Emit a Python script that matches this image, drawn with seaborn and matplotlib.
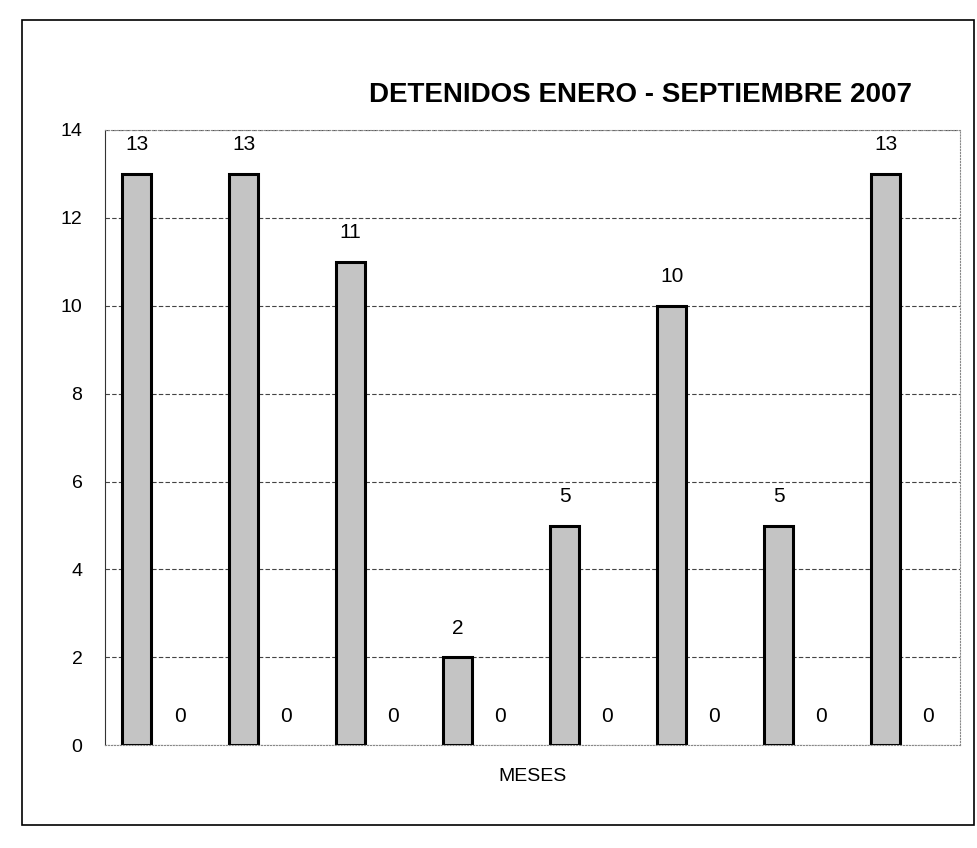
import pandas as pd
import matplotlib
matplotlib.use('Agg')
import matplotlib.pyplot as plt
import seaborn as sns
from matplotlib.patches import Rectangle

# datos
meses = ['1', '2', '3', '4', '5', '6', '7', '8']
detenidos = [13, 13, 11, 2, 5, 10, 5, 13]
otros = [0, 0, 0, 0, 0, 0, 0, 0]
series = ['Detenidos', 'Otros']

df = pd.DataFrame({
    'mes': meses * 2,
    'valor': detenidos + otros,
    'serie': [series[0]] * len(meses) + [series[1]] * len(meses),
})

sns.set_style('white')
plt.rcParams['font.family'] = ['Liberation Sans', 'DejaVu Sans']
plt.rcParams['text.color'] = 'black'
plt.rcParams['axes.labelcolor'] = 'black'
plt.rcParams['ytick.color'] = 'black'

fig = plt.figure(figsize=(9.78, 8.48), dpi=100)
ax = fig.add_axes([0.107, 0.121, 0.875, 0.726])

sns.barplot(data=df, x='mes', y='valor', hue='serie', palette=['#c4c4c4', '#c4c4c4'],
            width=0.8, gap=0.32, edgecolor='black', linewidth=2.2, legend=False, ax=ax)

# la serie de ceros no deja raya visible
for bar in ax.containers[1]:
    bar.set_linewidth(0)

ax.bar_label(ax.containers[0], padding=14, fontsize=15)
ax.bar_label(ax.containers[1], padding=14, fontsize=15)

ax.set_ylim(0, 14)
ax.set_xlim(-0.5, 7.5)
ax.set_yticks(range(0, 15, 2))
ax.tick_params(axis='y', labelsize=14, length=0, pad=16)
ax.set_xticks([])
ax.set_ylabel('')
ax.set_xlabel('MESES', fontsize=14, labelpad=16)
ax.yaxis.grid(True, color='#444444', linestyle=(0, (4, 2)), linewidth=0.8)
ax.set_axisbelow(True)

for side in ['top', 'right', 'bottom']:
    ax.spines[side].set_color('#888888')
    ax.spines[side].set_linestyle(':')
    ax.spines[side].set_linewidth(0.8)
ax.spines['left'].set_color('#333333')
ax.spines['left'].set_linewidth(0.8)

fig.text(0.655, 0.888, 'DETENIDOS ENERO - SEPTIEMBRE 2007', ha='center', va='center',
         fontsize=20, fontweight='bold')

# marco exterior
fig.patches.append(Rectangle((0.023, 0.027), 0.973, 0.95, transform=fig.transFigure,
                             fill=False, edgecolor='black', linewidth=1.2))

fig.savefig('out.png', dpi=100)
